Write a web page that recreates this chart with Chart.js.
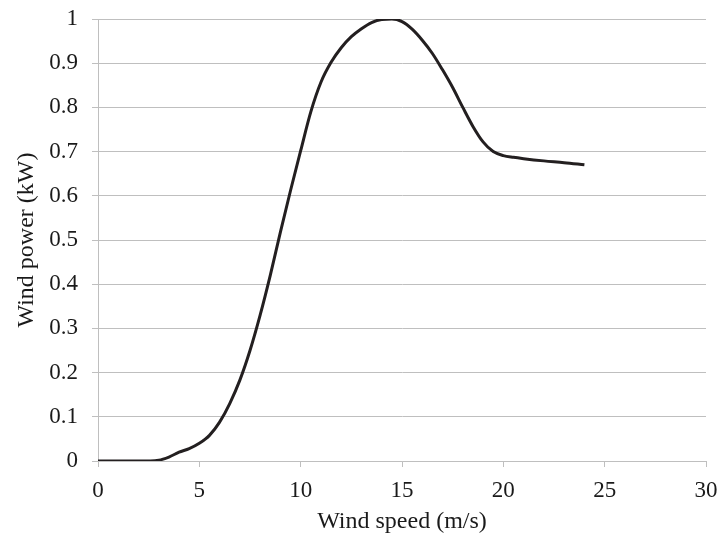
<!DOCTYPE html>
<html>
<head>
<meta charset="utf-8">
<script src="https://cdn.jsdelivr.net/npm/chart.js@4/dist/chart.umd.min.js"></script>
<style>
  body { margin: 0; background: #fff; }
  #wrap { width: 718px; height: 535px; }
</style>
</head>
<body>
<div id="wrap"><canvas id="chart" width="718" height="535"></canvas></div>
<script>
// wind speed (m/s) and power (kW)
const windSpeed = [0, 1, 2, 3, 3.5, 4, 4.5, 5, 5.5, 6, 6.5, 7, 7.5, 8, 8.5, 9, 9.5, 10,
  10.5, 11, 11.5, 12, 12.5, 13, 13.5, 14, 14.5, 15, 15.5, 16, 16.5, 17, 17.5, 18,
  18.5, 19, 19.5, 20, 20.5, 21, 22, 23, 24];
const windPower = [0, 0, 0, 0.002, 0.009, 0.02, 0.028, 0.04, 0.058, 0.088, 0.13, 0.183,
  0.25, 0.33, 0.42, 0.518, 0.612, 0.702, 0.79, 0.857, 0.902, 0.935, 0.96, 0.978, 0.992,
  0.999, 1.0, 0.994, 0.977, 0.952, 0.922, 0.885, 0.845, 0.8, 0.757, 0.722, 0.7, 0.691,
  0.687, 0.684, 0.679, 0.675, 0.67];
const xTitle = "Wind speed (m/s)";
const yTitle = "Wind power (kW)";

const family = "'Liberation Serif', 'Times New Roman', serif";
const tickFont = { family: family, size: 23 };
const titleFont = { family: family, size: 24, lineHeight: 1.0 };
const gridColor = "#bfbfbf";
const textColor = "#1a1a1a";

const points = windSpeed.map((s, i) => ({ x: s, y: windPower[i] }));

new Chart(document.getElementById("chart"), {
  type: "line",
  data: {
    datasets: [{
      data: points,
      borderColor: "#231f20",
      borderWidth: 3,
      pointRadius: 0,
      cubicInterpolationMode: "monotone",
      fill: false
    }]
  },
  options: {
    responsive: false,
    animation: false,
    devicePixelRatio: 1,
    layout: { padding: { top: 19, right: 12, left: 0, bottom: 0 } },
    plugins: { legend: { display: false }, tooltip: { enabled: false } },
    scales: {
      x: {
        type: "linear",
        min: 0,
        max: 30,
        afterFit: scale => {
          scale.height = 74;
          scale.paddingLeft = 0;
          scale.paddingRight = 0;
        },
        ticks: { stepSize: 5, color: textColor, font: tickFont, padding: 10 },
        grid: { drawOnChartArea: false, color: gridColor, tickLength: 6 },
        border: { color: gridColor },
        title: { display: true, text: xTitle, color: textColor, font: titleFont, padding: { top: 0, bottom: 1 } }
      },
      y: {
        min: 0,
        max: 1,
        afterFit: scale => {
          scale.width = 98;
          scale.paddingTop = 0;
          scale.paddingBottom = 0;
        },
        ticks: { stepSize: 0.1, color: textColor, font: tickFont, padding: 14,
          callback: v => Math.round(v * 10) / 10 },
        grid: { color: gridColor, tickLength: 6 },
        border: { color: gridColor },
        title: { display: true, text: yTitle, color: textColor, font: titleFont, padding: { top: 15, bottom: 0 } }
      }
    }
  }
});
</script>
</body>
</html>
